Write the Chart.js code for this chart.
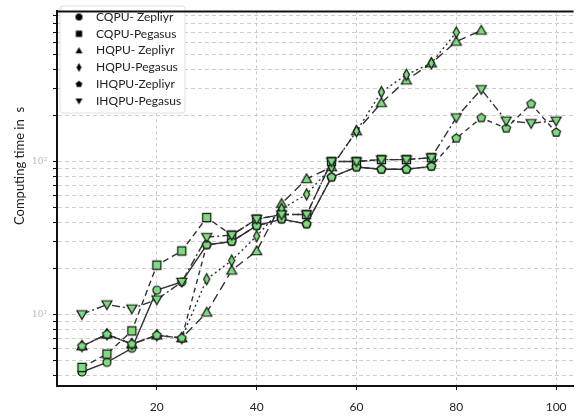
<!DOCTYPE html>
<html>
<head>
<meta charset="utf-8">
<script src="https://cdn.jsdelivr.net/npm/chart.js@4.4.0/dist/chart.umd.min.js"></script>
<style>
html, body { margin: 0; padding: 0; background: #fff; }
</style>
</head>
<body>
<canvas id="myChart" width="580" height="416"></canvas>
<script>
// problem sizes (x) and computing times in s (y)
var xCQPU = [5, 10, 15, 20, 25, 30, 35, 40, 45, 50, 55, 60, 65, 70, 75];
var xHQPUZ = [5, 10, 15, 20, 25, 30, 35, 40, 45, 50, 55, 60, 65, 70, 75, 80, 85];
var xHQPUP = [5, 10, 15, 20, 25, 30, 35, 40, 45, 50, 55, 60, 65, 70, 75, 80];
var xIHQPU = [5, 10, 15, 20, 25, 30, 35, 40, 45, 50, 55, 60, 65, 70, 75, 80, 85, 90, 95, 100];

var cqpuZepliyr = [4.2, 4.85, 6.0, 14.4, 16.3, 28.5, 30, 38, 42, 39, 79, 92, 89, 89, 93];
var cqpuPegasus = [4.5, 5.5, 7.8, 21, 26, 43, 33, 42, 45, 45, 100, 100, 103, 103, 106];
var hqpuZepliyr = [6.2, 7.4, 6.4, 7.3, 7.0, 10.3, 19.4, 26, 53, 77, 92, 158, 242, 340, 440, 610, 720];
var hqpuPegasus = [6.2, 7.4, 6.4, 7.3, 7.0, 17, 22.5, 32.5, 49, 61, 92, 158, 285, 370, 440, 700];
var ihqpuZepliyr = [6.2, 7.4, 6.4, 7.3, 7.0, 28.5, 30, 38, 42, 39, 79, 92, 89, 89, 93, 142, 193, 165, 238, 155];
var ihqpuPegasus = [10, 11.6, 10.9, 12.5, 16.3, 32, 33, 42, 45, 45, 100, 100, 103, 103, 106, 194, 297, 185, 178, 185];

var seriesLabels = ['CQPU- Zepliyr', 'CQPU-Pegasus', 'HQPU- Zepliyr', 'HQPU-Pegasus', 'IHQPU-Zepliyr', 'IHQPU-Pegasus'];
var xTickLabels = [20, 40, 60, 80, 100];
var yTickLabels = [10, 100];
var yTickText = ['10\u00b9', '10\u00b2'];

var GREEN = '#7ddc7d';
var LINE = '#333';

function makeMarker(shape, fill, size, edge) {
    var c = document.createElement('canvas');
    c.width = size + 4;
    c.height = size + 4;
    var g = c.getContext('2d');
    var cx = c.width / 2, cy = c.height / 2, r = size / 2;
    g.beginPath();
    if (shape == 'circle') {
        g.arc(cx, cy, r, 0, Math.PI * 2);
    } else if (shape == 'square') {
        g.rect(cx - r * 0.9, cy - r * 0.9, r * 1.8, r * 1.8);
    } else if (shape == 'triangle') {
        g.moveTo(cx, cy - r);
        g.lineTo(cx + r, cy + r * 0.75);
        g.lineTo(cx - r, cy + r * 0.75);
    } else if (shape == 'down') {
        g.moveTo(cx, cy + r);
        g.lineTo(cx + r, cy - r * 0.75);
        g.lineTo(cx - r, cy - r * 0.75);
    } else if (shape == 'diamond') {
        g.moveTo(cx, cy - r);
        g.lineTo(cx + r * 0.55, cy);
        g.lineTo(cx, cy + r);
        g.lineTo(cx - r * 0.55, cy);
    } else if (shape == 'pentagon') {
        for (var i = 0; i < 5; i++) {
            var a = -Math.PI / 2 + i * 2 * Math.PI / 5;
            var px = cx + r * Math.cos(a), py = cy + r * Math.sin(a);
            if (i == 0) g.moveTo(px, py); else g.lineTo(px, py);
        }
    }
    g.closePath();
    g.fillStyle = fill;
    g.fill();
    if (edge) {
        g.lineWidth = 1.2;
        g.strokeStyle = '#111';
        g.stroke();
    }
    return c;
}

var shapes = ['circle', 'square', 'triangle', 'diamond', 'pentagon', 'down'];
var dashes = [[], [6, 4], [9, 5], [2, 3], [5, 4], [8, 3, 2, 3]];
var xs = [xCQPU, xCQPU, xHQPUZ, xHQPUP, xIHQPU, xIHQPU];
var ys = [cqpuZepliyr, cqpuPegasus, hqpuZepliyr, hqpuPegasus, ihqpuZepliyr, ihqpuPegasus];
var sizes = [8, 9, 10, 11, 9, 10];
var drawOrder = [5, 4, 3, 2, 1, 0];

var datasets = [];
for (var s = 0; s < seriesLabels.length; s++) {
    var pts = [];
    for (var k = 0; k < xs[s].length; k++) pts.push({x: xs[s][k], y: ys[s][k]});
    datasets.push({
        label: seriesLabels[s],
        data: pts,
        borderColor: LINE,
        borderWidth: 1.4,
        borderDash: dashes[s],
        backgroundColor: 'transparent',
        pointStyle: makeMarker(shapes[s], GREEN, sizes[s], true),
        pointRadius: 5,
        order: drawOrder[s],
        fill: false,
        tension: 0
    });
}

// legend box inside the plot, top-left
var legendPlugin = {
    id: 'boxLegend',
    afterDatasetsDraw: function(chart) {
        var ctx = chart.ctx;
        var bx = 60, by = 6, bw = 125, bh = 107;
        ctx.save();
        ctx.fillStyle = 'rgba(255,255,255,0.95)';
        ctx.strokeStyle = '#e0e0e0';
        ctx.lineWidth = 1;
        ctx.beginPath();
        ctx.roundRect(bx, by, bw, bh, 3);
        ctx.fill();
        ctx.stroke();
        ctx.font = '12px Lato';
        ctx.fillStyle = '#222';
        ctx.textBaseline = 'middle';
        for (var i = 0; i < seriesLabels.length; i++) {
            var yy = 17 + i * 16.8;
            var m = makeMarker(shapes[i], '#000', i == 3 ? 9 : 7, false);
            ctx.drawImage(m, 79 - m.width / 2, yy - m.height / 2);
            ctx.fillText(seriesLabels[i], 96, yy);
        }
        // top frame line
        var a = chart.chartArea;
        ctx.strokeStyle = '#111';
        ctx.lineWidth = 2;
        ctx.beginPath();
        ctx.moveTo(a.left, a.top);
        ctx.lineTo(a.right, a.top);
        ctx.stroke();
        // y axis title
        ctx.translate(20, 166);
        ctx.rotate(-Math.PI / 2);
        ctx.textAlign = 'center';
        ctx.font = '13px Lato';
        ctx.fillStyle = '#222';
        ctx.fillText('Computing time in  s', 0, 0);
        ctx.restore();
    }
};

var ctx = document.getElementById('myChart').getContext('2d');
var chart = new Chart(ctx, {
    type: 'line',
    data: { datasets: datasets },
    options: {
        responsive: false,
        animation: false,
        layout: { padding: { top: 4, right: 0, left: 0, bottom: 0 } },
        plugins: {
            legend: { display: false },
            tooltip: { enabled: false }
        },
        scales: {
            x: {
                type: 'linear',
                min: 0,
                max: 103.5,
                afterFit: function(scale) { scale.height = 30; },
                afterBuildTicks: function(scale) {
                    scale.ticks = xTickLabels.map(function(v) { return {value: v}; });
                },
                ticks: {
                    color: '#222',
                    font: { family: 'Lato', size: 12 },
                    padding: 10,
                    maxRotation: 0,
                    callback: function(v) { return xTickLabels.indexOf(v) >= 0 ? String(v) : ''; }
                },
                grid: {
                    color: '#c8c8c8',
                    lineWidth: 1,
                    tickColor: '#111',
                    tickLength: 4,
                    tickBorderDash: []
                },
                border: { color: '#111', width: 2, dash: [3, 3] }
            },
            y: {
                type: 'logarithmic',
                min: 3.4,
                max: 960,
                afterFit: function(scale) { scale.width = 57; },
                afterBuildTicks: function(scale) {
                    var t = [];
                    for (var d = 1; d <= 100; d *= 10) {
                        for (var m = 1; m <= 9; m++) {
                            var v = m * d;
                            if (v > 3.4 && v < 960) t.push({value: v, major: m == 1});
                        }
                    }
                    scale.ticks = t;
                },
                ticks: {
                    color: '#b8b8b8',
                    font: { family: 'DejaVu Serif', size: 9 },
                    padding: 6,
                    autoSkip: false,
                    callback: function(v) {
                        var i = yTickLabels.indexOf(v);
                        return i >= 0 ? yTickText[i] : '';
                    }
                },
                grid: {
                    color: '#cccccc',
                    lineWidth: 1,
                    tickColor: '#111',
                    tickLength: 4,
                    tickBorderDash: []
                },
                border: { color: '#111', width: 2, dash: [4, 3] }
            }
        }
    },
    plugins: [legendPlugin]
});
</script>
</body>
</html>
